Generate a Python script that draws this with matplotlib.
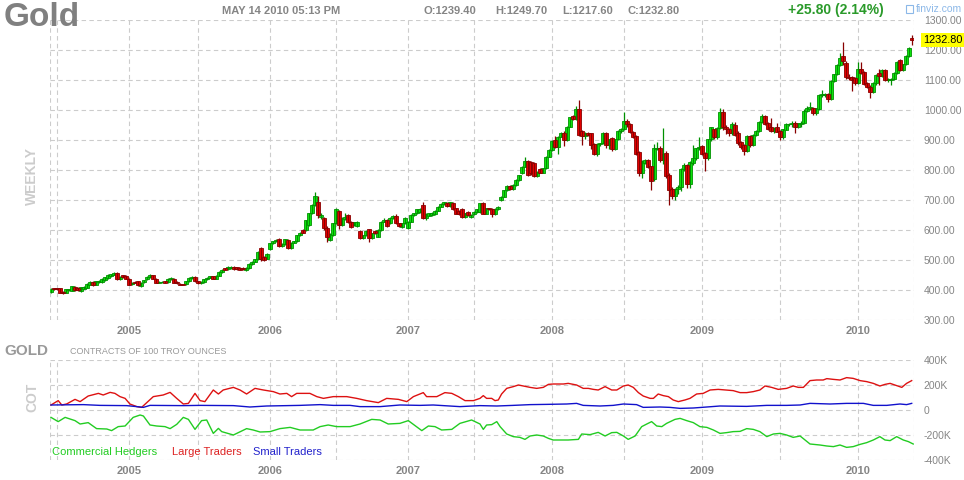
import numpy as np
import matplotlib
matplotlib.use('Agg')
from matplotlib import pyplot as plt
from matplotlib.transforms import blended_transform_factory

plt.rcParams['font.family'] = ['Liberation Sans', 'DejaVu Sans']

# weekly candles (one per bar, oldest first)
opens = [393, 406, 405, 406, 394, 391, 400, 398, 411, 406, 396, 405,
         408, 418, 427, 418, 427, 427, 433, 440, 447, 451, 458, 436,
         449, 447, 438, 420, 427, 429, 414, 427, 436, 442, 449, 438,
         424, 426, 429, 427, 436, 438, 427, 420, 418, 420, 429, 440,
         444, 429, 422, 427, 436, 441, 446, 438, 448, 460, 472, 470,
         472, 478, 476, 474, 475, 466, 472, 487, 494, 502, 539, 509,
         505, 536, 556, 562, 569, 547, 553, 567, 539, 558, 562, 583,
         600, 600, 617, 656, 683, 692, 642, 639, 608, 566, 583, 622,
         663, 617, 636, 650, 628, 617, 614, 597, 572, 583, 602, 572,
         597, 578, 600, 628, 633, 622, 639, 647, 622, 611, 622, 606,
         628, 650, 656, 660, 683, 640, 648, 650, 652, 664, 678, 687,
         690, 680, 691, 672, 664, 669, 642, 660, 645, 652, 660, 660,
         689, 655, 672, 670, 653, 670, 700, 711, 733, 747, 737, 750,
         767, 790, 811, 831, 825, 822, 780, 802, 791, 806, 844, 867,
         900, 876, 911, 924, 900, 944, 980, 969, 1003, 931, 913, 924,
         922, 887, 853, 887, 889, 924, 883, 906, 869, 902, 930, 936,
         964, 955, 928, 913, 861, 789, 825, 835, 813, 770, 870, 875,
         833, 858, 783, 736, 713, 736, 744, 802, 817, 753, 822, 839,
         872, 880, 855, 839, 902, 935, 911, 941, 994, 942, 936, 922,
         950, 924, 894, 883, 864, 913, 883, 917, 931, 961, 980, 956,
         942, 931, 942, 931, 909, 935, 953, 952, 958, 944, 955, 958,
         998, 1005, 1008, 989, 1005, 1050, 1050, 1053, 1037, 1098, 1119, 1150,
         1180, 1158, 1109, 1109, 1105, 1091, 1136, 1128, 1091, 1078, 1061, 1089,
         1124, 1113, 1133, 1100, 1100, 1102, 1124, 1167, 1133, 1152, 1180, 1239.4]
highs = [406, 408, 408, 408, 396, 404, 404, 415, 414, 409, 411, 413,
         423, 429, 430, 431, 433, 440, 444, 453, 455, 460, 460, 446,
         451, 449, 440, 426, 429, 431, 426, 435, 446, 453, 451, 440,
         429, 429, 431, 440, 442, 440, 429, 422, 420, 431, 442, 446,
         446, 431, 429, 438, 443, 448, 448, 450, 462, 470, 474, 480,
         479, 480, 478, 476, 477, 476, 489, 496, 504, 530, 542, 512,
         522, 558, 564, 569, 572, 556, 571, 569, 560, 564, 585, 593,
         602, 635, 658, 686, 726, 713, 656, 642, 612, 590, 625, 672,
         666, 642, 658, 653, 631, 627, 630, 600, 585, 600, 604, 591,
         600, 602, 630, 640, 636, 642, 650, 652, 624, 624, 642, 630,
         652, 658, 671, 672, 694, 657, 658, 660, 666, 680, 689, 695,
         694, 695, 694, 675, 666, 672, 657, 663, 653, 662, 671, 691,
         692, 674, 675, 672, 672, 680, 713, 735, 749, 750, 752, 769,
         785, 813, 845, 835, 830, 826, 797, 806, 808, 846, 869, 900,
         915, 915, 926, 930, 946, 977, 983, 1012, 1033, 935, 927, 928,
         925, 890, 890, 891, 927, 928, 905, 909, 905, 932, 940, 994,
         970, 958, 931, 916, 864, 834, 836, 838, 815, 888, 895, 880,
         940, 862, 790, 745, 740, 750, 806, 822, 820, 831, 883, 875,
         911, 885, 860, 905, 945, 938, 945, 1007, 1005, 950, 940, 960,
         960, 930, 898, 888, 918, 916, 920, 935, 965, 988, 985, 960,
         972, 945, 957, 935, 938, 957, 958, 962, 962, 958, 963, 1003,
         1012, 1028, 1011, 1008, 1055, 1067, 1058, 1058, 1101, 1121, 1153, 1191,
         1226, 1164, 1120, 1112, 1110, 1161, 1161, 1131, 1094, 1082, 1093, 1120,
         1136, 1136, 1137, 1106, 1106, 1127, 1164, 1170, 1155, 1183, 1210, 1249.7]
lows = [390, 400, 401, 389, 386, 389, 397, 396, 398, 398, 394, 403,
        406, 416, 414, 416, 425, 425, 431, 438, 445, 449, 434, 434,
        440, 436, 416, 418, 422, 414, 411, 425, 434, 440, 436, 422,
        422, 424, 422, 425, 434, 422, 420, 416, 416, 418, 427, 438,
        427, 420, 420, 425, 434, 439, 436, 436, 446, 458, 466, 468,
        470, 468, 467, 466, 468, 464, 470, 485, 492, 500, 498, 496,
        503, 534, 554, 560, 545, 545, 551, 537, 537, 556, 560, 581,
        589, 598, 615, 654, 681, 640, 638, 600, 561, 562, 580, 620,
        605, 614, 633, 625, 606, 614, 609, 570, 570, 580, 561, 570,
        588, 576, 598, 626, 611, 620, 637, 620, 611, 607, 620, 604,
        626, 648, 654, 658, 636, 633, 646, 648, 650, 662, 676, 685,
        678, 678, 667, 653, 651, 640, 640, 648, 640, 650, 658, 658,
        653, 653, 668, 645, 650, 668, 698, 709, 731, 735, 735, 748,
        765, 788, 809, 781, 785, 778, 778, 789, 789, 804, 842, 865,
        874, 855, 909, 880, 898, 942, 967, 967, 915, 883, 905, 915,
        870, 850, 846, 880, 887, 872, 870, 862, 867, 900, 925, 934,
        945, 925, 908, 850, 780, 775, 820, 808, 733, 762, 866, 828,
        820, 775, 683, 703, 700, 720, 730, 798, 739, 740, 818, 835,
        868, 850, 798, 833, 898, 905, 905, 938, 935, 920, 915, 918,
        912, 885, 870, 850, 860, 878, 880, 912, 928, 958, 950, 932,
        928, 925, 926, 900, 905, 932, 948, 945, 922, 940, 945, 955,
        995, 1000, 985, 983, 1000, 1043, 1045, 1028, 1035, 1095, 1116, 1146,
        1150, 1105, 1100, 1063, 1085, 1088, 1120, 1084, 1072, 1039, 1058, 1085,
        1083, 1110, 1096, 1094, 1083, 1099, 1121, 1130, 1129, 1149, 1176, 1217.6]
closes = [404, 403, 403, 391, 389, 402, 402, 413, 400, 400, 409, 411,
          421, 427, 418, 429, 431, 438, 442, 451, 453, 458, 436, 444,
          442, 438, 418, 424, 424, 416, 424, 433, 444, 451, 438, 424,
          427, 427, 424, 438, 440, 424, 422, 418, 417, 429, 440, 444,
          429, 422, 427, 436, 441, 446, 438, 448, 460, 468, 468, 478,
          476, 470, 469, 468, 470, 474, 487, 494, 502, 528, 502, 500,
          520, 556, 562, 567, 547, 553, 569, 539, 558, 562, 583, 591,
          591, 633, 656, 683, 713, 650, 650, 605, 578, 586, 622, 669,
          617, 639, 644, 628, 609, 625, 628, 572, 583, 598, 572, 589,
          591, 600, 628, 633, 613, 639, 647, 622, 613, 622, 639, 628,
          650, 656, 669, 669, 639, 655, 656, 658, 664, 678, 687, 693,
          680, 693, 669, 655, 653, 642, 655, 650, 650, 660, 669, 689,
          655, 672, 669, 653, 670, 678, 711, 733, 747, 737, 750, 767,
          783, 811, 831, 783, 789, 780, 794, 791, 806, 844, 867, 898,
          876, 911, 924, 900, 944, 975, 969, 1003, 917, 913, 924, 917,
          883, 853, 887, 889, 924, 883, 902, 869, 902, 930, 936, 964,
          955, 928, 911, 855, 789, 831, 833, 811, 764, 872, 875, 833,
          855, 780, 733, 713, 736, 744, 802, 817, 753, 828, 839, 872,
          878, 855, 839, 902, 942, 911, 941, 994, 942, 936, 922, 952,
          917, 889, 876, 864, 913, 883, 917, 931, 961, 980, 953, 936,
          931, 939, 928, 909, 935, 953, 955, 958, 944, 955, 958, 998,
          1008, 1010, 989, 1005, 1050, 1053, 1055, 1037, 1098, 1119, 1150, 1172,
          1162, 1109, 1107, 1100, 1091, 1136, 1124, 1087, 1076, 1061, 1089, 1117,
          1113, 1133, 1100, 1102, 1102, 1124, 1161, 1133, 1152, 1180, 1206, 1232.8]

# half-year gridlines (bar index) and year labels
half_year_pos = [2, 26, 49, 73, 95, 119, 141, 167, 191, 217, 243, 269]
half_year_lab = ['', '2005', '', '2006', '', '2007', '', '2008', '', '2009', '', '2010']

# COT positions, thousands of contracts (bar index, value)
large_x = [0, 2.4, 3.6, 5.2, 8, 9.7, 12.4, 15.8, 17.4, 19.7, 21.3, 23, 24.7, 26.3,
           28.6, 30.2, 31.9, 34.1, 37.4, 39.7, 41.9, 44.1, 45.8, 48, 49.7, 51.3,
           54.1, 55.8, 57.4, 60.8, 63, 65.2, 68, 70.8, 74.1, 76.3, 78.6, 80.2,
           81.9, 86.3, 88.6, 90.8, 94.1, 98.6, 101.9, 105.2, 109.1, 111.9, 115.8,
           118.6, 120.8, 124.1, 125.2, 128.6, 131.3, 133.6, 135.8, 138, 140.8, 143,
           144.1, 145.2, 146.9, 148, 149.1, 150.2, 151.9, 154.1, 155.8, 157.4,
           159.7, 161.9, 164.1, 165.8, 167.4, 170.8, 172.4, 175.2, 177.4, 179.1,
           180.8, 182.4, 184.7, 186.9, 188.6, 190.8, 192.4, 194.1, 195.8, 197.4,
           199.7, 200.8, 202.4, 204.1, 205.8, 207.4, 209.1, 211.3, 213, 215.2,
           217.4, 219.7, 222.4, 224.7, 227.4, 229.7, 231.9, 234.1, 236.3, 238,
           240.2, 242.4, 245.2, 247.4, 249.1, 250.8, 253, 255.2, 257.4, 258.6,
           260.8, 263, 265.2, 267.4, 269.7, 271.9, 274.1, 276.3, 278, 279.7,
           281.3, 283.6, 285.2, 286.9]
large = [40, 75, 40, 48, 85, 67, 112, 133, 120, 141, 133, 107, 93, 48,
         27, 21, 59, 107, 120, 141, 93, 48, 53, 133, 75, 67,
         160, 128, 160, 181, 160, 128, 173, 160, 147, 128, 133, 107,
         133, 133, 107, 93, 107, 107, 93, 75, 59, 93, 85,
         67, 107, 139, 107, 107, 139, 133, 107, 75, 75, 93,
         115, 93, 93, 75, 80, 128, 173, 187, 200, 192,
         181, 173, 181, 205, 208, 208, 213, 200, 173, 173,
         165, 160, 187, 160, 160, 192, 200, 181, 139, 112,
         93, 93, 128, 115, 107, 80, 67, 80, 93, 128,
         133, 160, 165, 160, 155, 139, 139, 147, 160, 192,
         181, 165, 173, 192, 181, 181, 235, 240, 240, 251,
         245, 240, 259, 253, 235, 227, 213, 192, 205, 213,
         200, 181, 213, 235]
small_x = [0, 10.8, 16.3, 25.2, 28.6, 30.8, 33, 44.1, 49.7, 60.8, 66.3, 71.9, 83,
           89.7, 94.1, 99.7, 103, 109.7, 116.3, 123, 127.4, 136.3, 143, 148.6,
           154.1, 159.7, 165.2, 171.9, 175.2, 177.4, 183, 187.4, 190.8, 195.2,
           197.4, 203, 206.3, 209.7, 214.1, 218.6, 223, 231.9, 238.6, 245.2,
           249.7, 253, 259.7, 265.2, 270.8, 274.1, 278.6, 283, 285.2, 286.9]
small = [40, 43, 37, 35, 27, 21, 37, 35, 37, 35, 24, 32, 37,
         43, 37, 37, 27, 27, 40, 37, 40, 27, 35, 32,
         37, 43, 45, 48, 53, 37, 32, 37, 48, 43,
         21, 24, 21, 13, 16, 24, 32, 29, 37, 37,
         40, 53, 48, 53, 53, 37, 37, 48, 43, 53]
comm_x = [0, 2.4, 4.7, 8, 9.7, 12.4, 15.2, 18.6, 20.2, 22.4, 24.7, 27.4, 29.7,
          30.8, 33, 35.2, 38, 39.7, 41.9, 44.1, 45.8, 48, 50.2, 51.9, 54.1,
          55.8, 56.9, 60.8, 65.2, 67.4, 69.7, 73, 76.3, 79.7, 83, 87.4, 89.7,
          92.4, 95.2, 99.7, 103, 106.9, 109.7, 112.4, 116.3, 119.1, 123.6, 125.8,
          128, 130.2, 133.6, 136.3, 140.2, 143, 144.1, 145.2, 146.9, 148.6,
          149.7, 151.9, 154.1, 156.3, 158, 159.7, 161.9, 164.1, 165.8, 167.4,
          170.8, 172.4, 175.8, 176.9, 179.7, 182.4, 184.7, 186.9, 188.6, 190.8,
          192.4, 194.7, 196.9, 198.6, 200.2, 201.9, 203.6, 205.2, 208, 209.7,
          211.9, 214.1, 216.3, 218.6, 220.8, 223, 225.2, 227.4, 229.7, 231.9,
          234.1, 236.3, 238.6, 240.8, 243, 245.2, 247.4, 249.7, 253, 256.3,
          258.6, 260.8, 263, 265.2, 267.4, 269.7, 271.9, 274.1, 276.3, 278,
          279.7, 281.9, 284.1, 285.8, 287.4]
comm = [-59, -93, -59, -85, -112, -101, -149, -152, -165, -133, -128, -59, -40,
        -48, -120, -128, -133, -149, -115, -59, -75, -155, -85, -80, -187,
        -147, -173, -200, -149, -160, -176, -173, -149, -139, -160, -160, -133,
        -120, -133, -133, -112, -75, -80, -112, -107, -85, -165, -128,
        -133, -160, -155, -107, -80, -112, -155, -120, -117, -93,
        -133, -192, -213, -219, -235, -208, -200, -208, -227, -240,
        -240, -240, -235, -192, -197, -179, -208, -181, -179, -208,
        -235, -208, -133, -112, -93, -128, -133, -107, -75, -67,
        -85, -101, -133, -139, -160, -187, -181, -173, -171, -149,
        -155, -173, -213, -192, -187, -200, -219, -208, -272, -280,
        -288, -293, -280, -299, -293, -275, -261, -240, -213, -240,
        -245, -213, -240, -253, -272]

grid_kw = dict(color='#cccccc', linestyle=(0, (4, 3)), linewidth=0.8)
gray = '#858585'
W, H = 964, 480
xmin, xmax = -1 / 3, len(closes) - 1 + 2 / 3

fig = plt.figure(figsize=(W / 100, H / 100), dpi=100)
ax = fig.add_axes([50 / W, 1 - 320 / H, 864 / W, 300 / H])
ax2 = fig.add_axes([50 / W, 1 - 460 / H, 864 / W, 100 / H])

for a in (ax, ax2):
    for s in a.spines.values():
        s.set_visible(False)
    a.set_xlim(xmin, xmax)
    a.set_xticks(half_year_pos)
    a.set_xticklabels(half_year_lab, fontsize=8, fontweight='bold', color=gray)
    a.grid(True, **grid_kw)
    a.axvline(xmin, **grid_kw)
    a.axvline(xmax, **grid_kw)
    a.yaxis.tick_right()
    a.tick_params(length=0)
    a.tick_params(axis='x', pad=4)
    a.tick_params(axis='y', pad=7, labelsize=7.5, labelcolor=gray)
    a.set_axisbelow(True)

# candles
o, hi, lo, c = map(np.array, (opens, highs, lows, closes))
idx = np.arange(len(c))
up = c >= o
body = np.maximum(np.abs(c - o), 1.5)
bottom = np.minimum(o, c)
ax.vlines(idx[up], lo[up], hi[up], color='#009000', linewidth=0.9)
ax.vlines(idx[~up], lo[~up], hi[~up], color='#880000', linewidth=0.9)
ax.bar(idx[up], body[up], bottom=bottom[up], width=1.2, color='#10ee10',
       edgecolor='#009000', linewidth=0.6)
ax.bar(idx[~up], body[~up], bottom=bottom[~up], width=1.2, color='#ee0000',
       edgecolor='#880000', linewidth=0.6)

ax.set_ylim(300, 1300)
ax.set_yticks(range(300, 1400, 100))
ax.set_yticklabels(['%.2f' % v for v in range(300, 1400, 100)])
tr = blended_transform_factory(ax.transAxes, ax.transData)
ax.text(1 + 9 / 864, c[-1], '%.2f' % c[-1], transform=tr, fontsize=7.8,
        va='center', ha='left', color='black',
        bbox=dict(boxstyle='square,pad=0.18', fc='#ffff00', ec='none'))

# COT panel
ax2.plot(comm_x, comm, color='#22cc22', linewidth=1)
ax2.plot(large_x, large, color='#dd1111', linewidth=1)
ax2.plot(small_x, small, color='#1111cc', linewidth=1)
ax2.set_ylim(-400, 400)
ax2.set_yticks([400, 200, 0, -200, -400])
ax2.set_yticklabels(['400K', '200K', '0', '-200K', '-400K'])

# header texts
def ftext(x, y, s, **kw):
    fig.text(x / W, 1 - y / H, s, va='center', **kw)

ftext(4, 17, 'Gold', fontsize=24, fontweight='bold', color='#808080')
ftext(222, 11, 'MAY 14 2010 05:13 PM', fontsize=8, fontweight='bold', color=gray)
ftext(424, 11, 'O:1239.40', fontsize=8, fontweight='bold', color=gray)
ftext(495, 11, 'H:1249.70', fontsize=8, fontweight='bold', color=gray)
ftext(562, 11, 'L:1217.60', fontsize=8, fontweight='bold', color=gray)
ftext(627, 11, 'C:1232.80', fontsize=8, fontweight='bold', color=gray)
ftext(788, 10, '+25.80 (2.14%)', fontsize=10, fontweight='bold', color='#2a9a2a')
fig.patches.append(plt.Rectangle((906 / W, 1 - 13 / H), 7 / W, 8 / H,
                                 transform=fig.transFigure, fill=False,
                                 edgecolor='#8cb8e8', linewidth=0.8))
ftext(916, 9, 'finviz.com', fontsize=7.5, color='#8cb8e8')
fig.text(32 / W, 1 - 176 / H, 'WEEKLY', rotation=90, ha='center', va='center',
         fontsize=10, fontweight='bold', color='#cccccc')

ftext(4, 351, 'GOLD', fontsize=11, fontweight='bold', color='#999999')
ftext(70, 352, 'CONTRACTS OF 100 TROY OUNCES', fontsize=6.5, color='#999999')
fig.text(32 / W, 1 - 397 / H, 'COT', rotation=90, ha='center', va='center',
         fontsize=10, fontweight='bold', color='#cccccc')
ftext(52, 452, 'Commercial Hedgers', fontsize=8, color='#22cc22')
ftext(172, 452, 'Large Traders', fontsize=8, color='#dd2222')
ftext(253, 452, 'Small Traders', fontsize=8, color='#2222cc')

fig.savefig('out.png', dpi=100, facecolor='white')
